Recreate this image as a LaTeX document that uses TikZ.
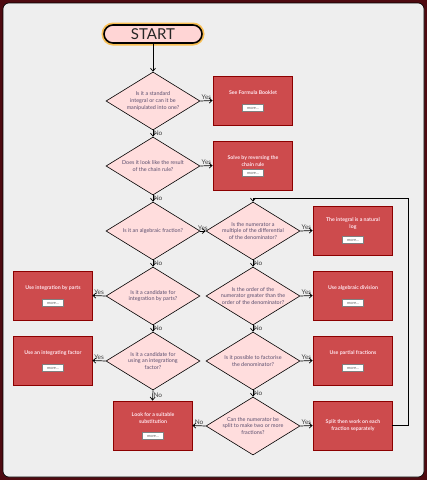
\documentclass[tikz,border=0pt]{standalone}
\usepackage{fontspec}
\setmainfont{Lato}
\usetikzlibrary{shapes.geometric, arrows.meta}
\definecolor{bgRed}{RGB}{78,10,16}
\definecolor{panelGray}{RGB}{238,238,238}
\definecolor{startPink}{RGB}{255,213,213}
\definecolor{glowOrange}{RGB}{255,172,20}
\definecolor{qPink}{RGB}{255,221,221}
\definecolor{qText}{RGB}{90,78,110}
\definecolor{boxRed}{RGB}{205,75,77}
\definecolor{boxEdge}{RGB}{140,0,0}
\definecolor{boxText}{RGB}{255,230,238}

\tikzset{
  startbox/.style={rectangle, rounded corners=9pt, draw=black, line width=1.6pt, fill=startPink,
    minimum width=98pt, minimum height=18pt, inner sep=0pt, text=black!85,
    font=\fontsize{15}{15}\selectfont,
    preaction={draw=glowOrange, line width=5pt, opacity=0.7}},
  decision/.style={diamond, draw, line width=0.6pt, fill=qPink, minimum width=94pt,
    minimum height=58pt, inner sep=0pt},
  qtext/.style={text=qText, font=\fontsize{5.4}{6.8}\selectfont, align=center, inner sep=0pt},
  action/.style={rectangle, draw=boxEdge, line width=0.8pt, fill=boxRed,
    minimum width=79pt, minimum height=49pt, inner sep=0pt},
  atext/.style={text=boxText, font=\bfseries\fontsize{5.2}{7}\selectfont, align=center, inner sep=0pt},
  morebtn/.style={rectangle, draw=gray, fill=white, line width=0.7pt, minimum width=21pt,
    minimum height=6.5pt, inner sep=0pt, text=black!60, font=\fontsize{4}{4}\selectfont},
  flow/.style={-{Straight Barb[length=3pt,width=5pt]}, line width=0.7pt},
  answer/.style={font=\fontsize{6.5}{7}\selectfont, text=black!75, inner sep=0.5pt}
}

\begin{document}
\begin{tikzpicture}[x=1pt, y=-1pt]
  % page and panel
  \fill[bgRed] (0,0) rectangle (427,480);
  \draw[fill=panelGray, rounded corners=6pt, line width=0.6pt] (3,3) rectangle (424,477);

  \node[startbox] (start) at (153,34) {START};

  % questions
  \node[decision, label={[qtext]center:{Is it a standard\\integral or can it be\\manipulated into one?}}] (qStandard) at (153,101) {};
  \node[decision, label={[qtext]center:{Does it look like the result\\of the chain rule?}}] (qChain) at (153,166) {};
  \node[decision, label={[qtext]center:{Is it an algebraic fraction?}}] (qFraction) at (153,231) {};
  \node[decision, label={[qtext]center:{Is the numerator a\\multiple of the differential\\of the denominator?}}] (qNumMult) at (253,231) {};
  \node[decision, label={[qtext]center:{Is it a candidate for\\integration by parts?}}] (qParts) at (153,296) {};
  \node[decision, label={[qtext]center:{Is the order of the\\numerator greater than the\\order of the denominator?}}] (qOrder) at (253,296) {};
  \node[decision, label={[qtext]center:{Is it a candidate for\\using an integrationg\\factor?}}] (qFactor) at (153,361) {};
  \node[decision, label={[qtext]center:{Is it possible to factorise\\the denominator?}}] (qFactorise) at (253,361) {};
  \node[decision, label={[qtext]center:{Can the numerator be\\split to make two or more\\fractions?}}] (qSplit) at (253,426) {};

  % answers
  \node[action] (bFormula) at (252.5,100.5) {};
  \node[atext] (bFormulaT) at (253,93) {See Formula Booklet};
  \node[morebtn] (bFormulaM) at (253,108) {more...};

  \node[action] (bChain) at (252.5,165.5) {};
  \node[atext] (bChainT) at (253,161.5) {Solve by reversing the\\chain rule};
  \node[morebtn] (bChainM) at (253,173) {more...};

  \node[action] (bLog) at (352.5,230.5) {};
  \node[atext] (bLogT) at (353,223.5) {The integral is a natural\\log};
  \node[morebtn] (bLogM) at (353,240) {more...};

  \node[action] (bParts) at (52.5,295.5) {};
  \node[atext] (bPartsT) at (53,288) {Use integration by parts};
  \node[morebtn] (bPartsM) at (53,303) {more...};

  \node[action] (bDivision) at (352.5,295.5) {};
  \node[atext] (bDivisionT) at (353,288) {Use algebraic division};
  \node[morebtn] (bDivisionM) at (353,303) {more...};

  \node[action] (bIntFactor) at (52.5,360.5) {};
  \node[atext] (bIntFactorT) at (53,353) {Use an integrating factor};
  \node[morebtn] (bIntFactorM) at (53,368) {more...};

  \node[action] (bPartial) at (352.5,360.5) {};
  \node[atext] (bPartialT) at (353,353) {Use partial fractions};
  \node[morebtn] (bPartialM) at (353,368) {more...};

  \node[action] (bSubst) at (152.5,425.5) {};
  \node[atext] (bSubstT) at (153,418.5) {Look for a suitable\\substitution};
  \node[morebtn] (bSubstM) at (153,436) {more...};

  \node[action] (bSplit) at (352.5,425.5) {};
  \node[atext] (bSplitT) at (353,425.5) {Split then work on each\\fraction separately};

  % connectors
  \draw[flow] (start) -- (qStandard.north);
  \draw[flow] (qStandard.east) -- node[answer, above] {Yes} (bFormula.west);
  \draw[flow] (qStandard.south) -- node[answer, right] {No} (qChain.north);
  \draw[flow] (qChain.east) -- node[answer, above] {Yes} (bChain.west);
  \draw[flow] (qChain.south) -- node[answer, right] {No} (qFraction.north);
  \draw[flow] (qFraction.east) -- node[answer, above] {Yes} (qNumMult.west);
  \draw[flow] (qFraction.south) -- node[answer, right] {No} (qParts.north);
  \draw[flow] (qNumMult.east) -- node[answer, above] {Yes} (bLog.west);
  \draw[flow] (qNumMult.south) -- node[answer, right] {No} (qOrder.north);
  \draw[flow] (qParts.west) -- node[answer, above] {Yes} (bParts.east);
  \draw[flow] (qParts.south) -- node[answer, right] {No} (qFactor.north);
  \draw[flow] (qOrder.east) -- node[answer, above] {Yes} (bDivision.west);
  \draw[flow] (qOrder.south) -- node[answer, right] {No} (qFactorise.north);
  \draw[flow] (qFactor.west) -- node[answer, above] {Yes} (bIntFactor.east);
  \draw[flow] (qFactor.south) -- node[answer, right] {No} (bSubst.north);
  \draw[flow] (qFactorise.east) -- node[answer, above] {Yes} (bPartial.west);
  \draw[flow] (qFactorise.south) -- node[answer, right] {No} (qSplit.north);
  \draw[flow] (qSplit.west) -- node[answer, above] {No} (bSubst.east);
  \draw[flow] (qSplit.east) -- node[answer, above] {Yes} (bSplit.west);
  % back round to the numerator question
  \draw[flow] (bSplit.east) -- ++(16,0) |- (253,198) -- (qNumMult.north);
\end{tikzpicture}
\end{document}
